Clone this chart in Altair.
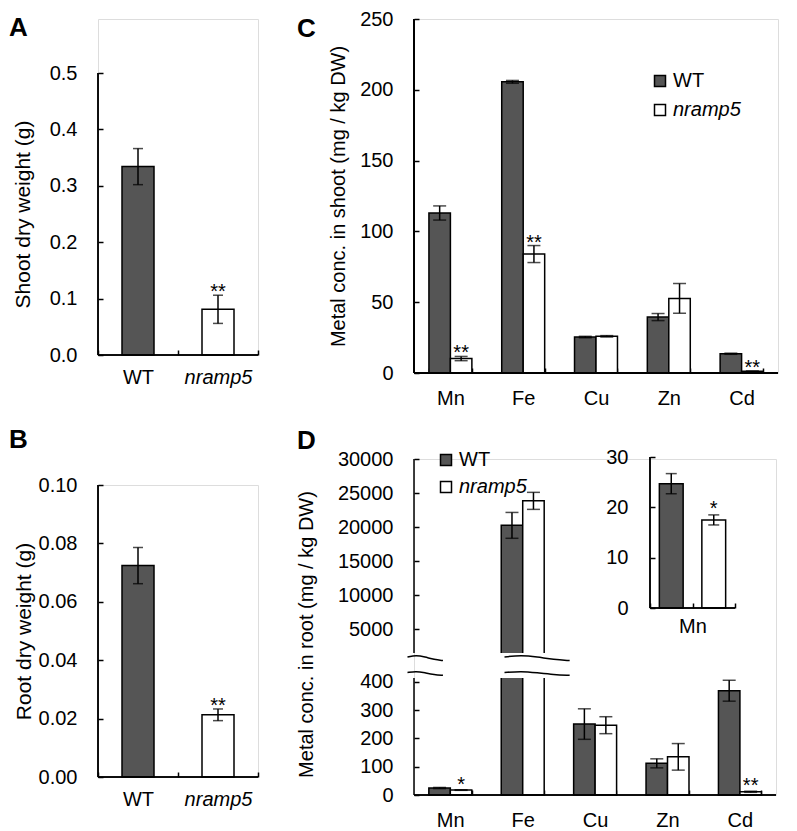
import altair as alt
import pandas as pd

FONT = "Liberation Sans"
DARK = "#555555"
TICK = 5
SW = 1.5
LFS = 20  # tick / category label font size

genotypes = ["WT", "nramp5"]
metals = ["Mn", "Fe", "Cu", "Zn", "Cd"]

# ---- Panel A: shoot dry weight (g)
shoot_dw_mean = [0.334, 0.081]
shoot_dw_err = [0.032, 0.025]
shoot_dw_sig = ["", "**"]
shoot_dw_ticks = [0.0, 0.1, 0.2, 0.3, 0.4, 0.5]

# ---- Panel B: root dry weight (g)
root_dw_mean = [0.0724, 0.0213]
root_dw_err = [0.0062, 0.0020]
root_dw_sig = ["", "**"]
root_dw_ticks = [0.00, 0.02, 0.04, 0.06, 0.08, 0.10]

# ---- Panel C: metal conc. in shoot (mg/kg DW)
shoot_wt = [113.0, 205.6, 25.4, 39.5, 13.6]
shoot_wt_err = [5.0, 1.0, 0.5, 2.5, 0.4]
shoot_wt_sig = ["", "", "", "", ""]
shoot_mut = [10.2, 84.0, 25.9, 52.7, 1.2]
shoot_mut_err = [1.5, 6.0, 0.5, 10.5, 0.2]
shoot_mut_sig = ["**", "**", "", "", "**"]
shoot_ticks = [0, 50, 100, 150, 200, 250]

# ---- Panel D: metal conc. in root (mg/kg DW), broken axis
root_wt = [24.7, 20250, 251, 112, 369]
root_wt_err = [2.0, 1900, 54, 16, 37]
root_wt_sig = ["", "", "", "", ""]
root_mut = [17.5, 23850, 247, 135, 11.4]
root_mut_err = [1.0, 1250, 30, 47, 2.0]
root_mut_sig = ["*", "", "", "", "**"]
root_ticks = [0, 100, 200, 300, 400, 5000, 10000, 15000, 20000, 25000, 30000]
root_break = [414, 1500]
root_ymax = 30000

# ---- Panel D inset (Mn)
inset_mean = [24.7, 17.5]
inset_err = [2.0, 1.0]
inset_sig = ["", "*"]
inset_ticks = [0, 10, 20, 30]

# ---- axis-break squiggles (x in category units, y in data units)
wave_x_left = [-0.09, 0.03, 0.15, 0.28, 0.40]
wave_x_right = [1.25, 1.48, 1.70, 1.93, 2.15]
wave_top = [1330, 1400, 1330, 1220, 1170]
wave_bottom = [650, 710, 640, 560, 530]

ITALIC_GENO = {"condition": {"test": "datum.value === 'nramp5'", "value": "italic"},
               "value": "normal"}
color_scale = alt.Scale(domain=genotypes, range=[DARK, "white"])


def ax(**kw):
    base = dict(labelFont=FONT, titleFont=FONT, labelColor="black", titleColor="black",
                tickColor="black", tickWidth=SW, domain=False, grid=False,
                titleFontWeight="normal", labelOverlap=False, labelFlush=False)
    base.update(kw)
    return alt.Axis(**base)


def legend(x, y, row_pad):
    return alt.Legend(title=None, orient="none", legendX=x, legendY=y, symbolType="square",
                      symbolSize=121, symbolStrokeColor="black", symbolStrokeWidth=SW,
                      labelFont=FONT, labelFontSize=LFS, labelColor="black",
                      labelFontStyle={"expr": "datum.label === 'nramp5' ? 'italic' : 'normal'"},
                      rowPadding=row_pad, padding=0, labelOffset=3)


def letter(t, x, y):
    return alt.Chart(pd.DataFrame({"t": [t]})).mark_text(
        font=FONT, fontSize=26, fontWeight="bold", align="left", baseline="alphabetic"
    ).encode(text="t:N", x=alt.value(x), y=alt.value(y))


def two_bar(means, errs, sigs, ticks, fmt, W, H, top, title, tpad, let):
    """H = full view height; the data range is drawn from y=top down to y=H."""
    df = pd.DataFrame({"genotype": genotypes, "mean": means, "err": errs, "sig": sigs})
    base = alt.Chart(df).transform_calculate(lo="datum.mean - datum.err",
                                             hi="datum.mean + datum.err")
    x = alt.X("genotype:N", sort=genotypes,
              scale=alt.Scale(domain=genotypes, paddingInner=0, paddingOuter=0),
              axis=ax(title=None, labelAngle=0, tickBand="extent", offset=-TICK, tickSize=TICK,
                      labelPadding=12, labelFontSize=LFS, labelFontStyle=ITALIC_GENO))
    y = alt.Y("mean:Q", scale=alt.Scale(domain=[ticks[0], ticks[-1]], range=[H, top], nice=False),
              axis=ax(title=title, values=ticks, tickCount=len(ticks), format=fmt, offset=-TICK,
                      tickSize=TICK, labelPadding=21, labelFontSize=LFS, titleFontSize=21,
                      titlePadding=tpad))
    bars = base.mark_bar(width={"band": 0.4}, stroke="black", strokeWidth=SW).encode(
        x=x, y=y, color=alt.Color("genotype:N", scale=color_scale, legend=None))
    whisk = base.mark_rule(color="black", strokeWidth=SW).encode(x=x, y="lo:Q", y2="hi:Q")
    cap_lo = base.mark_tick(color="black", size=10, thickness=SW).encode(x=x, y="lo:Q")
    cap_hi = base.mark_tick(color="black", size=10, thickness=SW).encode(x=x, y="hi:Q")
    stars = base.mark_text(font=FONT, fontSize=LFS, baseline="alphabetic", dy=3,
                           color="black").encode(x=x, y="hi:Q", text="sig:N")
    yline = base.mark_rule(color="black", strokeWidth=SW).encode(
        x=alt.value(0), y=alt.value(top), y2=alt.value(H))
    xline = base.mark_rule(color="black", strokeWidth=SW).encode(
        x=alt.value(0), x2=alt.value(W), y=alt.value(H))
    layers = [bars, whisk, cap_lo, cap_hi, stars, yline, xline, letter(let, -89, top - 37)]
    return alt.layer(*layers).properties(width=W, height=H)


def metal_frame(wt, wt_err, wt_sig, mut, mut_err, mut_sig):
    rows = []
    for i, m in enumerate(metals):
        rows.append(dict(metal=m, genotype="WT", mean=wt[i], err=wt_err[i], sig=wt_sig[i]))
        rows.append(dict(metal=m, genotype="nramp5", mean=mut[i], err=mut_err[i],
                         sig=mut_sig[i]))
    return pd.DataFrame(rows)


def metal_x():
    return alt.X("metal:N", sort=metals,
                 scale=alt.Scale(domain=metals, paddingInner=0.41, paddingOuter=0.205),
                 axis=ax(title=None, labelAngle=0, tickBand="extent", offset=-TICK,
                         tickSize=TICK, labelPadding=15, labelFontSize=LFS))


XO = alt.XOffset("genotype:N", sort=genotypes,
                 scale=alt.Scale(domain=genotypes, paddingInner=0, paddingOuter=0))

# ================= Panel A / B =================
A = two_bar(shoot_dw_mean, shoot_dw_err, shoot_dw_sig, shoot_dw_ticks, ".1f", 160, 336, 54,
            "Shoot dry weight (g)", 16, "A")
B = two_bar(root_dw_mean, root_dw_err, root_dw_sig, root_dw_ticks, ".2f", 160, 292, 0,
            "Root dry weight (g)", 4, "B")

# ================= Panel C =================
C_W, C_H = 364, 354
dfC = metal_frame(shoot_wt, shoot_wt_err, shoot_wt_sig, shoot_mut, shoot_mut_err, shoot_mut_sig)
baseC = alt.Chart(dfC).transform_calculate(lo="datum.mean - datum.err",
                                           hi="datum.mean + datum.err")
xC = metal_x()
yC = alt.Y("mean:Q", scale=alt.Scale(domain=[0, 250], nice=False),
           axis=ax(title="Metal conc. in shoot (mg / kg DW)", values=shoot_ticks,
                   tickCount=len(shoot_ticks), offset=-TICK, tickSize=TICK, labelPadding=21,
                   labelFontSize=LFS, titleFontSize=20, titlePadding=11))
barsC = baseC.mark_bar(stroke="black", strokeWidth=SW).encode(
    x=xC, xOffset=XO, y=yC,
    color=alt.Color("genotype:N", scale=color_scale, legend=legend(236, 52, 9)))
whC = baseC.mark_rule(color="black", strokeWidth=SW).encode(x=xC, xOffset=XO, y="lo:Q", y2="hi:Q")
clC = baseC.mark_tick(color="black", size=13, thickness=SW).encode(x=xC, xOffset=XO, y="lo:Q")
chC = baseC.mark_tick(color="black", size=13, thickness=SW).encode(x=xC, xOffset=XO, y="hi:Q")
stC = baseC.mark_text(font=FONT, fontSize=LFS, baseline="alphabetic", dy=3, color="black").encode(
    x=xC, xOffset=XO, y="hi:Q", text="sig:N")
ylC = baseC.mark_rule(color="black", strokeWidth=SW).encode(
    x=alt.value(0), y=alt.value(0), y2=alt.value(C_H))
xlC = baseC.mark_rule(color="black", strokeWidth=SW).encode(
    x=alt.value(0), x2=alt.value(C_W), y=alt.value(C_H))
C = alt.layer(barsC, whC, clC, chC, stC, ylC, xlC, letter("C", -117, 18)).properties(
    width=C_W, height=C_H)

# ================= Panel D =================
D_W, D_H = 362, 336
dfD = metal_frame(root_wt, root_wt_err, root_wt_sig, root_mut, root_mut_err, root_mut_sig)
baseD = alt.Chart(dfD).transform_calculate(lo="datum.mean - datum.err",
                                           hi="datum.mean + datum.err")
xD = metal_x()
yD_scale = alt.Scale(domain=[0, root_break[0], root_break[1], root_ymax],
                     range=[D_H, D_H - 117, D_H - 142, 0], nice=False, zero=False)
yD_axis = ax(title="Metal conc. in root (mg / kg DW)", values=root_ticks,
             tickCount=len(root_ticks), format="d",
             offset=-TICK, tickSize=TICK, labelPadding=21, labelFontSize=LFS,
             titleFontSize=20, titlePadding=21, titleY=175)
yD = alt.Y("mean:Q", scale=yD_scale, axis=yD_axis)
colorD = alt.Color("genotype:N", scale=color_scale, legend=legend(22, -9, 7))
barsD = baseD.mark_bar(stroke="black", strokeWidth=SW).encode(x=xD, xOffset=XO, y=yD, color=colorD)
whD = baseD.mark_rule(color="black", strokeWidth=SW).encode(
    x=xD, xOffset=XO, y=alt.Y("lo:Q", axis=yD_axis), y2="hi:Q")
clD = baseD.mark_tick(color="black", size=13, thickness=SW).encode(
    x=xD, xOffset=XO, y=alt.Y("lo:Q", axis=yD_axis))
chD = baseD.mark_tick(color="black", size=13, thickness=SW).encode(
    x=xD, xOffset=XO, y=alt.Y("hi:Q", axis=yD_axis))
stD = baseD.mark_text(font=FONT, fontSize=LFS, baseline="alphabetic", dy=1, color="black").encode(
    x=xD, xOffset=XO, y=alt.Y("hi:Q", axis=yD_axis), text="sig:N")
seg_df = pd.DataFrame({"y0": [0, root_break[1]], "y1": [root_break[0], root_ymax]})
ylD = alt.Chart(seg_df).mark_rule(color="black", strokeWidth=SW).encode(
    x=alt.value(0), y=alt.Y("y0:Q", axis=yD_axis), y2="y1:Q")
xlD = alt.Chart(seg_df).mark_rule(color="black", strokeWidth=SW).encode(
    x=alt.value(0), x2=alt.value(D_W), y=alt.datum(0))
mainD = alt.layer(barsD, whD, clD, chD, stD, ylD, xlD, letter("D", -117, -10))

# break: white gap over the Fe bars and the wavy lines
qx = alt.Scale(domain=[0, 5], nice=False, zero=False)
gap_df = pd.DataFrame({"x0": [1.17], "x1": [1.83], "y0": [root_break[0]], "y1": [root_break[1]]})
gap = alt.Chart(gap_df).mark_rect(color="white").encode(
    x=alt.X("x0:Q", scale=qx, axis=None), x2="x1:Q", y=alt.Y("y0:Q", axis=yD_axis), y2="y1:Q")
wave_rows = []
for name, xs, ys in [("lt", wave_x_left, wave_top), ("lb", wave_x_left, wave_bottom),
                     ("rt", wave_x_right, wave_top), ("rb", wave_x_right, wave_bottom)]:
    for xv, yv in zip(xs, ys):
        wave_rows.append(dict(line=name, xq=xv, yq=yv))
waves = alt.Chart(pd.DataFrame(wave_rows)).mark_line(
    interpolate="basis", color="black", strokeWidth=SW).encode(
    x=alt.X("xq:Q", scale=qx, axis=None), y=alt.Y("yq:Q", axis=yD_axis),
    detail="line:N", order="xq:Q")
breakD = alt.layer(gap, waves)

L1 = alt.layer(mainD, breakD).resolve_scale(x="independent")

# inset
INS_X = [236, 321]
INS_Y = [149, -2]
dfI = pd.DataFrame({"genotype": genotypes, "mean": inset_mean, "err": inset_err, "sig": inset_sig})
baseI = alt.Chart(dfI).transform_calculate(lo="datum.mean - datum.err",
                                           hi="datum.mean + datum.err")
xI = alt.X("genotype:N", sort=genotypes,
           scale=alt.Scale(domain=genotypes, range=INS_X, paddingInner=0, paddingOuter=0),
           axis=ax(orient="bottom", offset=INS_Y[0] - TICK - D_H, tickSize=TICK,
                   tickBand="extent", labels=False, title="Mn", titleFontSize=LFS,
                   titlePadding=8))
yI = alt.Y("mean:Q", scale=alt.Scale(domain=[0, 30], range=INS_Y, nice=False),
           axis=ax(orient="left", offset=-(INS_X[0] + TICK), values=inset_ticks,
                   tickCount=len(inset_ticks), tickSize=TICK,
                   labelPadding=22, labelFontSize=LFS, title=None))
barsI = baseI.mark_bar(width={"band": 0.56}, stroke="black", strokeWidth=SW).encode(
    x=xI, y=yI, color=colorD)
whI = baseI.mark_rule(color="black", strokeWidth=SW).encode(x=xI, y="lo:Q", y2="hi:Q")
clI = baseI.mark_tick(color="black", size=11, thickness=SW).encode(x=xI, y="lo:Q")
chI = baseI.mark_tick(color="black", size=11, thickness=SW).encode(x=xI, y="hi:Q")
stI = baseI.mark_text(font=FONT, fontSize=LFS, baseline="alphabetic", dy=0, color="black").encode(
    x=xI, y="hi:Q", text="sig:N")
ylI = baseI.mark_rule(color="black", strokeWidth=SW).encode(
    x=alt.value(INS_X[0]), y=alt.datum(0), y2=alt.datum(30))
xlI = baseI.mark_rule(color="black", strokeWidth=SW).encode(
    x=alt.value(INS_X[0]), x2=alt.value(INS_X[1]), y=alt.datum(0))
inset = alt.layer(barsI, whI, clI, chI, stI, ylI, xlI)

D = alt.layer(L1, inset).resolve_scale(x="independent", y="independent").properties(
    width=D_W, height=D_H)

left = alt.vconcat(A, B, spacing=38).resolve_scale(color="independent")
right = alt.vconcat(C, D, spacing=18).resolve_scale(color="independent")
chart = alt.hconcat(left, right, spacing=35).resolve_scale(
    color="independent").properties(
    padding={"left": 0, "top": 0, "right": 0, "bottom": 0},
    background="white",
).configure_view(stroke=None).configure_axis(
    labelOverlap=False, labelFlush=False
).configure(font=FONT)

chart.save("out.html", embed_options={"renderer": "svg", "actions": False})
